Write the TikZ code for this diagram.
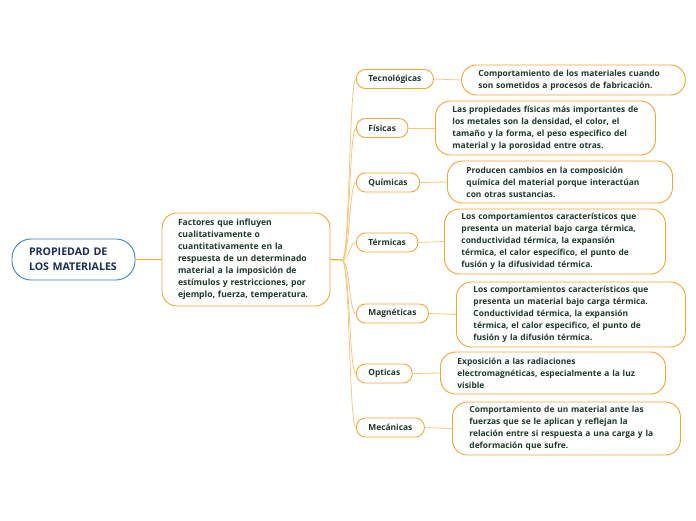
\documentclass[tikz,border=0pt]{standalone}
\usepackage{fontspec}
\setmainfont{Open Sans}
\usetikzlibrary{positioning,calc}
\definecolor{mapborder}{HTML}{F7A531}
\definecolor{mapline}{HTML}{FAC57D}
\definecolor{maptext}{HTML}{1D3B2A}
\definecolor{rootblue}{HTML}{3B82C4}
\definecolor{rootnavy}{HTML}{1B2C55}
\tikzset{
    rootbox/.style={
        rectangle,
        draw=rootblue,
        line width=0.9pt,
        fill=white,
        rounded corners=19pt,
        align=left,
        text=rootnavy,
        text width=89pt,
        font=\fontsize{10.6}{15}\selectfont\bfseries,
        minimum height=41pt,
        inner xsep=17pt
    },
    factorbox/.style={
        rectangle,
        draw=mapborder,
        line width=0.9pt,
        fill=white,
        rounded corners=15pt,
        align=left,
        text=maptext,
        text width=136pt,
        font=\fontsize{8.6}{12}\selectfont\bfseries,
        minimum height=93pt,
        inner xsep=16pt
    },
    catbox/.style={
        rectangle,
        draw=mapborder,
        line width=0.9pt,
        fill=white,
        rounded corners=9pt,
        text=maptext,
        font=\fontsize{8.4}{12}\selectfont\bfseries,
        minimum height=19pt,
        inner xsep=12pt,
        anchor=west
    },
    descbox/.style={
        rectangle,
        draw=mapborder,
        line width=0.9pt,
        fill=white,
        rounded corners=15pt,
        align=left,
        text=maptext,
        font=\fontsize{8.4}{12}\selectfont\bfseries,
        inner xsep=17pt,
        anchor=west
    },
    mainlink/.style={
        draw=mapborder,
        line width=1.2pt
    },
    link/.style={
        draw=mapline,
        line width=0.8pt
    }
}
\begin{document}
\begin{tikzpicture}[x=1pt, y=-1pt]
    \useasboundingbox (0,0) rectangle (696,520);

    \node[rootbox] (root) at (73.5,259.5) {PROPIEDAD DE\\LOS MATERIALES};
    \node[factorbox] (factors) at (246,259.5) {Factores que influyen\\cualitativamente o\\cuantitativamente en la\\respuesta de un determinado\\material a la imposición de\\estímulos y restricciones, por\\ejemplo, fuerza, temperatura.};
    \coordinate (hub) at (342,260);

    % categorias
    \node[catbox] (tec) at (356,79) {Tecnológicas};
    \node[catbox] (fis) at (356,128) {Físicas};
    \node[catbox] (qui) at (356,182.5) {Químicas};
    \node[catbox] (ter) at (356,242.5) {Térmicas};
    \node[catbox] (mag) at (356,313.5) {Magnéticas};
    \node[catbox] (opt) at (356,373.5) {Opticas};
    \node[catbox] (mec) at (356,427.5) {Mecánicas};

    % descripciones
    \node[descbox, text width=190pt, minimum height=30pt] (tecdesc) at (461,80) {Comportamiento de los materiales cuando\\son sometidos a procesos de fabricación.};
    \node[descbox, text width=186pt, minimum height=54pt] (fisdesc) at (435,128) {Las propiedades físicas más importantes de\\los metales son la densidad, el color, el\\tamaño y la forma, el peso especifico del\\material y la porosidad entre otras.};
    \node[descbox, text width=191pt, minimum height=42pt] (quidesc) at (447,182) {\hspace*{2pt}Producen cambios en la composición\\\hspace*{2pt}química del material porque interactúan\\\hspace*{2pt}con otras sustancias.};
    \node[descbox, text width=187pt, minimum height=65pt] (terdesc) at (444,241.5) {Los comportamientos característicos que\\presenta un material bajo carga térmica,\\conductividad térmica, la expansión\\térmica, el calor específico, el punto de\\fusión y la difusividad térmica.};
    \node[descbox, text width=195pt, minimum height=65pt] (magdesc) at (456,314.5) {Los comportamientos característicos que\\presenta un material bajo carga térmica.\\Conductividad térmica, la expansión\\térmica, el calor especifico, el punto de\\fusión y la difusión térmica.};
    \node[descbox, text width=191pt, minimum height=42pt] (optdesc) at (440,373) {Exposición a las radiaciones\\electromagnéticas, especialmente a la luz\\visible};
    \node[descbox, text width=194pt, minimum height=53pt] (mecdesc) at (452,428.5) {Comportamiento de un material ante las\\fuerzas que se le aplican y reflejan la\\relación entre si respuesta a una carga y la\\deformación que sufre.};

    \draw[mainlink] (root.east) -- (factors.west);
    \draw[mainlink] (factors.east) -- (hub);
    \foreach \c in {tec,fis,qui,ter,mag,opt,mec}{
        \draw[link] (hub) .. controls +(8,0) and +(-7,0) .. (\c.west);
        \draw[link] (\c.east) -- (\c desc.west);
    }
\end{tikzpicture}
\end{document}
